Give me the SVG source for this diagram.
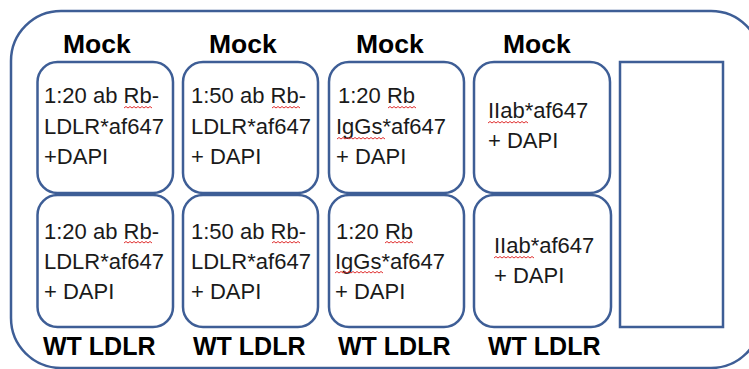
<svg xmlns="http://www.w3.org/2000/svg" width="749" height="369" viewBox="0 0 749 369">
<style>
.frame{fill:none;stroke:#3E5E96;stroke-width:2.5}
.box{fill:#fff;stroke:#3E5E96;stroke-width:2.5}
.hd{font-family:"Liberation Sans",Arial,sans-serif;font-weight:bold;font-size:25px;fill:#000}
.mk{font-size:26.5px}
.tx{font-family:"Liberation Sans",Arial,sans-serif;font-size:22px;fill:#1a1a1a}
.sq{fill:none;stroke:#e03030;stroke-width:1}
</style>
<rect width="749" height="369" fill="#fff"/>
<rect class="frame" x="11" y="11" width="750" height="357" rx="50"/>

<g id="labels">
<text class="hd mk" x="63" y="53">Mock</text>
<text class="hd mk" x="209" y="53">Mock</text>
<text class="hd mk" x="356" y="53">Mock</text>
<text class="hd mk" x="503" y="53">Mock</text>
<text class="hd" x="43" y="355">WT LDLR</text>
<text class="hd" x="193" y="355">WT LDLR</text>
<text class="hd" x="338" y="355">WT LDLR</text>
<text class="hd" x="488" y="355">WT LDLR</text>
</g>

<g id="box1">
<rect class="box" x="37.5" y="62" width="135.5" height="131" rx="20"/>
<text class="tx" x="44" y="103">1:20 ab Rb-</text>
<text class="tx" x="44" y="134">LDLR*af647</text>
<text class="tx" x="44" y="164">+DAPI</text>
<path class="sq" d="M124,108 l2,-1.5 l2,1.5 l2,-1.5 l2,1.5 l2,-1.5 l2,1.5 l2,-1.5 l2,1.5 l2,-1.5 l2,1.5 l2,-1.5 l2,1.5 l2,-1.5 l2,1.5"/>
</g>
<g id="box2">
<rect class="box" x="183" y="62" width="135" height="131" rx="20"/>
<text class="tx" x="191" y="103">1:50 ab Rb-</text>
<text class="tx" x="191" y="134">LDLR*af647</text>
<text class="tx" x="191" y="164">+ DAPI</text>
<path class="sq" d="M272,108 l2,-1.5 l2,1.5 l2,-1.5 l2,1.5 l2,-1.5 l2,1.5 l2,-1.5 l2,1.5 l2,-1.5 l2,1.5 l2,-1.5 l2,1.5 l2,-1.5 l2,1.5"/>
</g>
<g id="box3">
<rect class="box" x="329" y="62" width="135" height="131" rx="20"/>
<text class="tx" x="338" y="103">1:20 Rb</text>
<text class="tx" x="336" y="134">IgGs*af647</text>
<text class="tx" x="336" y="164">+ DAPI</text>
<path class="sq" d="M388,108 l2,-1.5 l2,1.5 l2,-1.5 l2,1.5 l2,-1.5 l2,1.5 l2,-1.5 l2,1.5 l2,-1.5 l2,1.5 l2,-1.5 l2,1.5 l2,-1.5 l2,1.5"/>
<path class="sq" d="M337,139 l2,-1.5 l2,1.5 l2,-1.5 l2,1.5 l2,-1.5 l2,1.5 l2,-1.5 l2,1.5 l2,-1.5 l2,1.5 l2,-1.5 l2,1.5 l2,-1.5 l2,1.5 l2,-1.5 l2,1.5 l2,-1.5 l2,1.5 l2,-1.5 l2,1.5 l2,-1.5 l2,1.5 l2,-1.5 l2,1.5"/>
</g>
<g id="box4">
<rect class="box" x="474" y="62" width="136" height="131" rx="20"/>
<text class="tx" x="488" y="118">IIab*af647</text>
<text class="tx" x="488" y="148">+ DAPI</text>
<path class="sq" d="M488,123 l2,-1.5 l2,1.5 l2,-1.5 l2,1.5 l2,-1.5 l2,1.5 l2,-1.5 l2,1.5 l2,-1.5 l2,1.5 l2,-1.5 l2,1.5 l2,-1.5 l2,1.5 l2,-1.5 l2,1.5 l2,-1.5 l2,1.5 l2,-1.5 l2,1.5"/>
</g>

<g id="box5">
<rect class="box" x="37.5" y="195" width="135.5" height="132" rx="20"/>
<text class="tx" x="44" y="239">1:20 ab Rb-</text>
<text class="tx" x="44" y="269">LDLR*af647</text>
<text class="tx" x="44" y="299">+ DAPI</text>
<path class="sq" d="M124,243 l2,-1.5 l2,1.5 l2,-1.5 l2,1.5 l2,-1.5 l2,1.5 l2,-1.5 l2,1.5 l2,-1.5 l2,1.5 l2,-1.5 l2,1.5 l2,-1.5 l2,1.5"/>
</g>
<g id="box6">
<rect class="box" x="183" y="195" width="135" height="132" rx="20"/>
<text class="tx" x="191" y="239">1:50 ab Rb-</text>
<text class="tx" x="191" y="269">LDLR*af647</text>
<text class="tx" x="191" y="299">+ DAPI</text>
<path class="sq" d="M272,243 l2,-1.5 l2,1.5 l2,-1.5 l2,1.5 l2,-1.5 l2,1.5 l2,-1.5 l2,1.5 l2,-1.5 l2,1.5 l2,-1.5 l2,1.5 l2,-1.5 l2,1.5"/>
</g>
<g id="box7">
<rect class="box" x="329" y="195" width="135" height="132" rx="20"/>
<text class="tx" x="336" y="239">1:20 Rb</text>
<text class="tx" x="335" y="269">IgGs*af647</text>
<text class="tx" x="335" y="299">+ DAPI</text>
<path class="sq" d="M385,243 l2,-1.5 l2,1.5 l2,-1.5 l2,1.5 l2,-1.5 l2,1.5 l2,-1.5 l2,1.5 l2,-1.5 l2,1.5 l2,-1.5 l2,1.5 l2,-1.5 l2,1.5"/>
<path class="sq" d="M335,273 l2,-1.5 l2,1.5 l2,-1.5 l2,1.5 l2,-1.5 l2,1.5 l2,-1.5 l2,1.5 l2,-1.5 l2,1.5 l2,-1.5 l2,1.5 l2,-1.5 l2,1.5 l2,-1.5 l2,1.5 l2,-1.5 l2,1.5 l2,-1.5 l2,1.5 l2,-1.5 l2,1.5 l2,-1.5 l2,1.5"/>
</g>
<g id="box8">
<rect class="box" x="474" y="195" width="137" height="132" rx="20"/>
<text class="tx" x="494" y="253">IIab*af647</text>
<text class="tx" x="494" y="283">+ DAPI</text>
<path class="sq" d="M494,258 l2,-1.5 l2,1.5 l2,-1.5 l2,1.5 l2,-1.5 l2,1.5 l2,-1.5 l2,1.5 l2,-1.5 l2,1.5 l2,-1.5 l2,1.5 l2,-1.5 l2,1.5 l2,-1.5 l2,1.5 l2,-1.5 l2,1.5 l2,-1.5 l2,1.5"/>
</g>

<g id="box9">
<rect class="box" x="620" y="62" width="103" height="265"/>
</g>
<g id="connectors"></g>
</svg>
